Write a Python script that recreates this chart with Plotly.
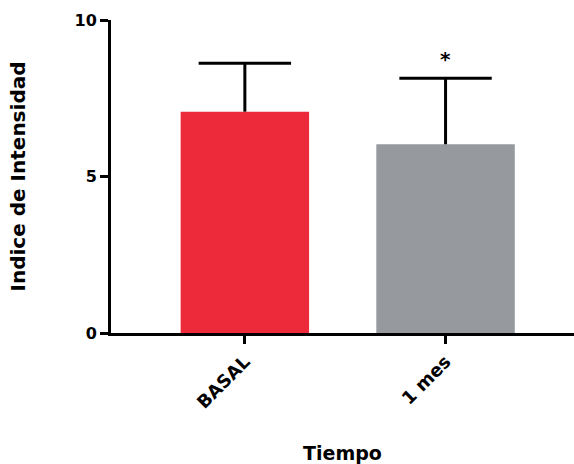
import plotly.graph_objects as go

# Intensity index per time point (mean and upper SD)
categories = ["BASAL", "1 mes"]
means = [7.07, 6.03]
sd_upper = [1.55, 2.11]
significance = ["", "*"]

bar_colors = ["#EC2A3A", "#969A9E"]
FONT = "DejaVu Sans"

fig = go.Figure()
fig.add_trace(go.Bar(
    x=categories,
    y=means,
    width=[0.64, 0.69],
    marker=dict(color=bar_colors, line=dict(width=0)),
    # upper-only whisker without caps; the cap is drawn as a marker below
    error_y=dict(
        type="data",
        symmetric=False,
        array=sd_upper,
        arrayminus=[0] * len(means),
        color="black",
        thickness=3,
        width=0,
    ),
    showlegend=False,
))

# horizontal caps at mean + SD
fig.add_trace(go.Scatter(
    x=categories,
    y=[m + e for m, e in zip(means, sd_upper)],
    mode="markers",
    marker=dict(symbol="line-ew-open", size=66, color="black",
                line=dict(color="black", width=3)),
    showlegend=False,
    hoverinfo="skip",
))

# significance marks above the error caps
for cat, m, e, s in zip(categories, means, sd_upper, significance):
    if s:
        fig.add_annotation(
            x=cat, y=m + e, text=s, showarrow=False,
            yanchor="bottom", yshift=5,
            font=dict(family=FONT, size=20, color="black", weight="bold"),
        )

fig.update_layout(
    width=574,
    height=464,
    margin=dict(l=111, r=0, t=20, b=131),
    plot_bgcolor="white",
    paper_bgcolor="white",
    xaxis=dict(
        range=[-0.667, 1.64],
        showline=True,
        linecolor="black",
        linewidth=3,
        ticks="outside",
        ticklen=8,
        tickwidth=3,
        tickcolor="black",
        tickangle=-45,
        tickfont=dict(family=FONT, size=18, color="black", weight="bold"),
        showgrid=False,
        zeroline=False,
        title=dict(
            text="Tiempo",
            font=dict(family=FONT, size=19, color="black", weight="bold"),
            standoff=42,
        ),
        automargin=False,
    ),
    yaxis=dict(
        range=[0, 10],
        tickvals=[0, 5, 10],
        showline=True,
        linecolor="black",
        linewidth=3,
        ticks="outside",
        ticklen=8,
        tickwidth=3,
        tickcolor="black",
        tickfont=dict(family=FONT, size=16, color="black", weight="bold"),
        showgrid=False,
        zeroline=False,
        title=dict(
            text="Indice de Intensidad",
            font=dict(family=FONT, size=20, color="black", weight="bold"),
            standoff=44,
        ),
        automargin=False,
    ),
)

fig.write_html("out.html")
